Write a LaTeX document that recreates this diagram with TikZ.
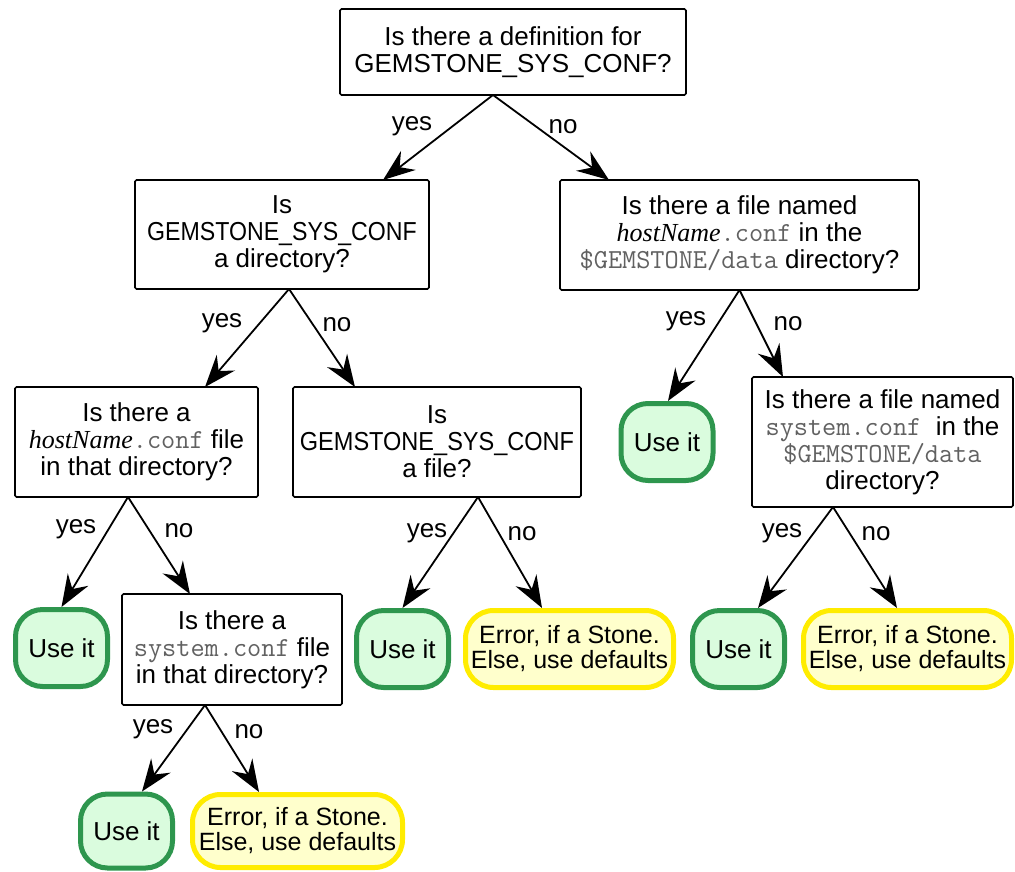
\documentclass[tikz,border=0pt]{standalone}
\usepackage{graphicx}
\usepackage{fontspec}
\setmainfont{Liberation Sans}
\newfontfamily\hostfont{Liberation Serif}
\usetikzlibrary{arrows.meta,calc}
\definecolor{usebd}{RGB}{46,150,78}
\definecolor{usefill}{RGB}{218,252,222}
\definecolor{errbd}{RGB}{255,236,0}
\definecolor{errfill}{RGB}{255,255,204}
\newcommand{\hn}{{\hostfont\itshape hostName}}
\newcommand{\mono}[1]{{\ttfamily\fontsize{27.5}{27}\selectfont\color{black!62}#1}}
\tikzset{
  qbox/.style={draw, line width=1.6pt, rounded corners=1.5pt, align=center, inner sep=0pt, outer sep=0pt, fill=white},
  usebox/.style={draw=usebd, fill=usefill, line width=5pt, rounded corners=27pt, minimum width=92pt, minimum height=77pt, inner sep=0pt, outer sep=2.5pt},
  errbox/.style={draw=errbd, fill=errfill, line width=5pt, rounded corners=28pt, minimum width=208pt, minimum height=77pt, align=center, font=\fontsize{25}{25}\selectfont, inner sep=0pt, outer sep=2.5pt},
  arr/.style={-{Stealth[length=32pt,width=24pt,inset=11pt]}, line width=1.8pt},
  lbl/.style={anchor=base, inner sep=0pt}
}
\begin{document}
\begin{tikzpicture}[x=1pt,y=-1pt,font=\fontsize{26}{27}\selectfont]
\useasboundingbox (0,0) rectangle (1015,871);
% question boxes
\node[qbox, minimum width=346pt, minimum height=86pt] (q1) at (513,52) {Is there a definition for\\GEMSTONE\_SYS\_CONF?};
\node[qbox, minimum width=294pt, minimum height=109pt] (q2) at (282,234.5) {Is\\\scalebox{0.89}[1]{GEMSTONE\_SYS\_CONF}\\a directory?};
\node[qbox, minimum width=359pt, minimum height=110pt] (q3) at (739.5,235) {Is there a file named\\\hn\mono{.conf} in the\\\mono{\$GEMSTONE/data} directory?};
\node[qbox, minimum width=243pt, minimum height=110pt] (q4) at (136.5,442) {Is there a\\\hn\mono{.conf} file\\in that directory?};
\node[qbox, minimum width=288pt, minimum height=110pt] (q5) at (437,442) {Is\\\scalebox{0.905}[1]{GEMSTONE\_SYS\_CONF}\\a file?};
\node[qbox, minimum width=261pt, minimum height=130pt] (q7) at (882.5,442) {Is there a file named\\\mono{system.conf}\ \ in the\\\mono{\$GEMSTONE/data}\\directory?};
\node[qbox, minimum width=220pt, minimum height=111pt] (q9) at (232,649.5) {Is there a\\\mono{system.conf} file\\in that directory?};
% outcomes
\node[usebox] (u1) at (667,442) {Use it};
\node[usebox] (u2) at (61.5,648) {Use it};
\node[usebox] (u3) at (402.5,649) {Use it};
\node[usebox] (u4) at (738.5,649) {Use it};
\node[usebox, minimum height=74pt] (u5) at (126.5,831) {Use it};
\node[errbox] (e1) at (569.5,649) {Error, if a Stone.\\Else, use defaults};
\node[errbox] (e2) at (907.5,649) {Error, if a Stone.\\Else, use defaults};
\node[errbox, minimum width=210pt, minimum height=73pt] (e3) at (297.5,831) {Error, if a Stone.\\Else, use defaults};
% connectors
\draw[arr] ([xshift=-20pt]q1.south) -- ([xshift=101pt]q2.north);
\draw[arr] ([xshift=-20pt]q1.south) -- ([xshift=-130.5pt]q3.north);
\draw[arr] ([xshift=7pt]q2.south) -- ([xshift=68.5pt]q4.north);
\draw[arr] ([xshift=7pt]q2.south) -- ([xshift=-82pt]q5.north);
\draw[arr] (q3.south) -- ([xshift=1pt]u1.north);
\draw[arr] (q3.south) -- ([xshift=-99.5pt]q7.north);
\draw[arr] ([xshift=-8.5pt]q4.south) -- (u2.north);
\draw[arr] ([xshift=-8.5pt]q4.south) -- ([xshift=-42pt]q9.north);
\draw[arr] ([xshift=41pt]q5.south) -- (u3.north);
\draw[arr] ([xshift=41pt]q5.south) -- ([xshift=-27.5pt]e1.north);
\draw[arr] ([xshift=-27pt]q9.south) -- ([xshift=15.5pt]u5.north);
\draw[arr] ([xshift=-27pt]q9.south) -- ([xshift=-38.5pt]e3.north);
\draw[arr] ([xshift=-49.5pt]q7.south) -- ([xshift=19.5pt]u4.north);
\draw[arr] ([xshift=-49.5pt]q7.south) -- ([xshift=-10.5pt]e2.north);
% labels
\node[lbl] (l1y) at (412,130) {yes};
\node[lbl] (l1n) at (563,133) {no};
\node[lbl] (l2y) at (222,327) {yes};
\node[lbl] (l2n) at (337,331) {no};
\node[lbl] (l3y) at (686,325) {yes};
\node[lbl] (l3n) at (788,330) {no};
\node[lbl] (l4y) at (76,533) {yes};
\node[lbl] (l4n) at (179,537) {no};
\node[lbl] (l5y) at (427,537) {yes};
\node[lbl] (l5n) at (522,540) {no};
\node[lbl] (l9y) at (153,733) {yes};
\node[lbl] (l9n) at (249,738) {no};
\node[lbl] (l7y) at (782,537) {yes};
\node[lbl] (l7n) at (876,540) {no};
\end{tikzpicture}
\end{document}
